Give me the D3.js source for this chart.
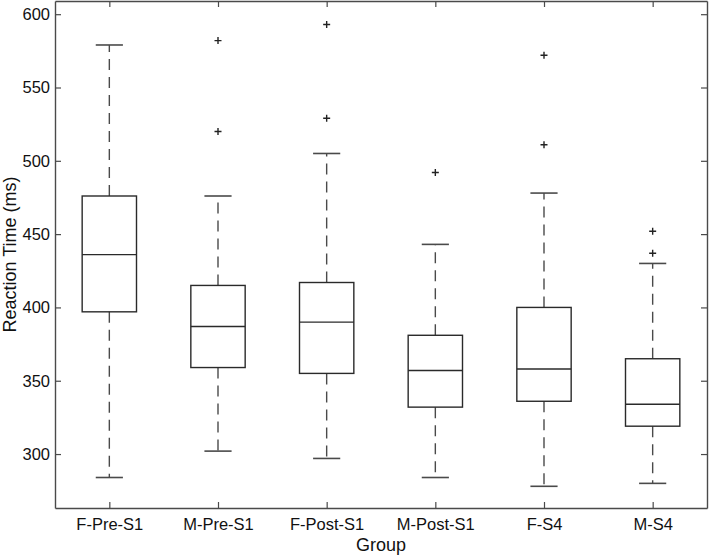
<!DOCTYPE html>
<html>
<head>
<meta charset="utf-8">
<script src="https://cdn.jsdelivr.net/npm/d3@7"></script>
<style>
  body { margin: 0; background: #fff; }
  text { font-family: "Liberation Sans", Arial, Helvetica, sans-serif; }
</style>
</head>
<body>
<svg id="chart" width="709" height="556"></svg>
<script>
// box stats (ms)
var groups   = ['F-Pre-S1', 'M-Pre-S1', 'F-Post-S1', 'M-Post-S1', 'F-S4', 'M-S4'];
var lowerW   = [284, 302, 297, 284, 278, 280];
var q1       = [397, 359, 355, 332, 336, 319];
var medians  = [436, 387, 390, 357, 358, 334];
var q3       = [476, 415, 417, 381, 400, 365];
var upperW   = [579, 476, 505, 443, 478, 430];
var outliers = [[], [520, 582], [529, 593], [492], [511, 572], [437, 452]];
var yTicks   = [300, 350, 400, 450, 500, 550, 600];

var svg = d3.select('#chart');
var m = {left: 55, top: 1, right: 2, bottom: 48};
var W = 709 - m.left - m.right, H = 556 - m.top - m.bottom;
var g = svg.append('g').attr('transform', 'translate(' + m.left + ',' + m.top + ')');

var x = d3.scaleLinear().domain([0.5, 6.5]).range([0, W]);
var y = d3.scaleLinear().domain([263.2, 609]).range([H, 0]);

var axisCol = '#4a4a4a', lineCol = '#2a2a2a';
var tick = 6;

// ticks inside on all four sides (matlab style)
var xIdx = groups.map(function (d, i) { return i + 1; });
var axB = g.append('g').attr('transform', 'translate(0,' + H + ')')
    .call(d3.axisBottom(x).tickValues(xIdx).tickSizeInner(-tick).tickSizeOuter(0)
        .tickPadding(10).tickFormat(function (d) { return groups[d - 1]; }));
var axT = g.append('g')
    .call(d3.axisTop(x).tickValues(xIdx).tickSizeInner(-tick).tickSizeOuter(0).tickFormat(''));
var axL = g.append('g')
    .call(d3.axisLeft(y).tickValues(yTicks).tickSizeInner(-tick).tickSizeOuter(0).tickPadding(5));
var axR = g.append('g').attr('transform', 'translate(' + W + ',0)')
    .call(d3.axisRight(y).tickValues(yTicks).tickSizeInner(-tick).tickSizeOuter(0).tickFormat(''));

[axB, axT, axL, axR].forEach(function (a) {
    a.select('.domain').attr('stroke', axisCol).attr('stroke-width', 1.4);
    a.selectAll('.tick line').attr('stroke', axisCol).attr('stroke-width', 1.2);
    a.selectAll('.tick text').attr('fill', '#111').style('font-size', '16.5px');
});

var bw = 0.5, cw = 0.25;
var data = groups.map(function (name, i) {
    return {i: i + 1, lo: lowerW[i], q1: q1[i], med: medians[i], q3: q3[i], hi: upperW[i], out: outliers[i]};
});

var box = g.selectAll('.box').data(data).enter().append('g').attr('class', 'box');

// dashed whiskers
box.append('line')
    .attr('x1', function (d) { return x(d.i); }).attr('x2', function (d) { return x(d.i); })
    .attr('y1', function (d) { return y(d.q3); }).attr('y2', function (d) { return y(d.hi); })
    .attr('stroke', axisCol).attr('stroke-width', 1.4).attr('stroke-dasharray', '11,7');
box.append('line')
    .attr('x1', function (d) { return x(d.i); }).attr('x2', function (d) { return x(d.i); })
    .attr('y1', function (d) { return y(d.q1); }).attr('y2', function (d) { return y(d.lo); })
    .attr('stroke', axisCol).attr('stroke-width', 1.4).attr('stroke-dasharray', '11,7');

// caps
['hi', 'lo'].forEach(function (k) {
    box.append('line')
        .attr('x1', function (d) { return x(d.i - cw / 2); }).attr('x2', function (d) { return x(d.i + cw / 2); })
        .attr('y1', function (d) { return y(d[k]); }).attr('y2', function (d) { return y(d[k]); })
        .attr('stroke', axisCol).attr('stroke-width', 1.6);
});

box.append('rect')
    .attr('x', function (d) { return x(d.i - bw / 2); })
    .attr('width', x(bw) - x(0))
    .attr('y', function (d) { return y(d.q3); })
    .attr('height', function (d) { return y(d.q1) - y(d.q3); })
    .attr('fill', 'none').attr('stroke', lineCol).attr('stroke-width', 1.4);

box.append('line')
    .attr('x1', function (d) { return x(d.i - bw / 2); }).attr('x2', function (d) { return x(d.i + bw / 2); })
    .attr('y1', function (d) { return y(d.med); }).attr('y2', function (d) { return y(d.med); })
    .attr('stroke', lineCol).attr('stroke-width', 1.4);

// outliers as plus signs
var pts = [];
data.forEach(function (d) { d.out.forEach(function (v) { pts.push({i: d.i, v: v}); }); });
g.selectAll('.out').data(pts).enter().append('path').attr('class', 'out')
    .attr('d', function (d) {
        var cx = x(d.i), cy = y(d.v), r = 3.5;
        return 'M' + (cx - r) + ',' + cy + 'H' + (cx + r) + 'M' + cx + ',' + (cy - r) + 'V' + (cy + r);
    })
    .attr('stroke', '#222').attr('stroke-width', 1.4);

svg.append('text')
    .attr('x', m.left + W / 2).attr('y', 551)
    .attr('text-anchor', 'middle').style('font-size', '18px').attr('fill', '#111')
    .text('Group');
svg.append('text')
    .attr('transform', 'translate(16,' + (m.top + H / 2) + ') rotate(-90)')
    .attr('text-anchor', 'middle').style('font-size', '18px').attr('fill', '#111')
    .text('Reaction Time (ms)');
</script>
</body>
</html>
